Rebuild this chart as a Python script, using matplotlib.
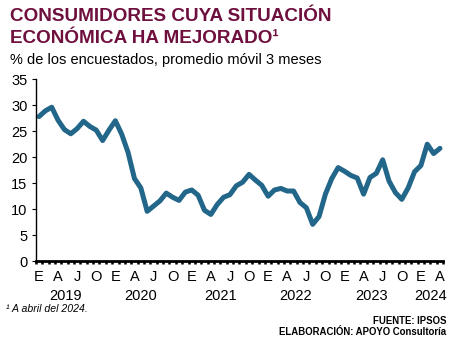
import matplotlib

matplotlib.use("Agg")
import matplotlib.pyplot as plt
import numpy as np

plt.rcParams["font.family"] = ["Liberation Sans", "DejaVu Sans"]

# mensual, enero 2019 - abril 2024 (promedio movil 3 meses)
valores = [
    27.8, 28.9, 29.6, 27.1, 25.3, 24.5, 25.5, 26.9, 25.9, 25.2, 23.2, 25.2,
    27.0, 24.4, 20.9, 15.9, 14.1, 9.6, 10.6, 11.6, 13.1, 12.3, 11.7, 13.3,
    13.7, 12.7, 9.8, 9.0, 10.9, 12.3, 12.8, 14.5, 15.2, 16.7, 15.6, 14.6,
    12.5, 13.7, 14.0, 13.5, 13.5, 11.3, 10.3, 7.1, 8.6, 12.9, 15.9, 18.0,
    17.3, 16.5, 16.0, 12.9, 16.1, 16.9, 19.5, 15.4, 13.2, 11.9, 14.1, 17.2,
    18.4, 22.5, 20.7, 21.7,
]
letras_mes = ["E", "A", "J", "O"]
anios = ["2019", "2020", "2021", "2022", "2023", "2024"]
pos_anios = [4.2, 16.0, 28.5, 40.3, 52.3, 61.5]

x = np.arange(len(valores))
ticks = x[::3]
etiquetas = [letras_mes[k % 4] for k in range(len(ticks))]

fig = plt.figure(figsize=(4.66, 3.47), dpi=100)
ax = fig.add_axes([0.0768, 0.247, 0.8742, 0.525])

ax.plot(x, valores, color="#22668a", lw=3.6, solid_capstyle="round", solid_joinstyle="round")

ax.set_xlim(-0.5, len(valores) - 0.5)
ax.set_ylim(0, 35)
ax.set_yticks(range(0, 36, 5))
ax.set_xticks(ticks)
ax.set_xticklabels(etiquetas)
ax.set_xticks(np.arange(-0.5, len(valores), 1), minor=True)

for lado in ["top", "right"]:
    ax.spines[lado].set_visible(False)
ax.spines["left"].set_linewidth(1.0)
ax.spines["bottom"].set_linewidth(2.0)

ax.tick_params(axis="y", direction="out", length=3, width=0.8, labelsize=10.5, pad=3)
ax.tick_params(axis="x", which="major", length=0, labelsize=10.5, pad=6)
ax.tick_params(axis="x", which="minor", direction="out", length=2.5, width=1.8)

for anio, pos in zip(anios, pos_anios):
    ax.text(pos, -0.15, anio, transform=ax.get_xaxis_transform(),
            ha="center", va="top", fontsize=10.5)

fig.text(0.021, 0.94, "CONSUMIDORES CUYA SITUACIÓN", fontsize=13.6, fontweight="bold",
         color="#6e0f3d", ha="left", va="baseline")
fig.text(0.021, 0.877, "ECONÓMICA HA MEJORADO¹", fontsize=13.6, fontweight="bold",
         color="#6e0f3d", ha="left", va="baseline")
fig.text(0.021, 0.815, "% de los encuestados, promedio móvil 3 meses", fontsize=10.5,
         ha="left", va="baseline")

fig.text(0.013, 0.1, "¹ A abril del 2024.", fontsize=7.6, style="italic",
         ha="left", va="baseline")
fig.text(0.958, 0.066, "FUENTE: IPSOS", fontsize=6.9, fontweight="bold",
         ha="right", va="baseline")
fig.text(0.958, 0.035, "ELABORACIÓN: APOYO Consultoría", fontsize=6.9, fontweight="bold",
         ha="right", va="baseline")

fig.savefig("out.png", dpi=100)
